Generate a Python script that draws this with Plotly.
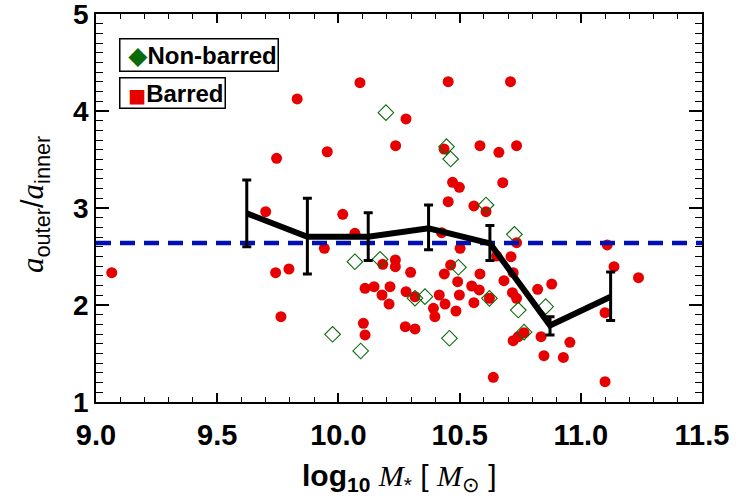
import plotly.graph_objects as go

# ---------------- data ----------------
barred_mass = [9.065, 9.700, 10.018, 10.068, 9.942, 9.741, 9.796, 9.763, 10.103, 10.110,
               10.110, 10.147, 10.180, 10.213, 10.209, 10.183, 10.235, 10.235, 10.298, 10.279,
               10.316, 10.276, 10.316, 9.830, 10.089, 9.745, 9.954, 10.236, 10.279, 10.453,
               10.710, 10.436, 10.584, 10.662, 10.735, 10.471, 10.499, 10.678, 10.453, 10.559,
               10.609, 10.426, 10.735, 10.502, 10.653, 10.712, 10.463, 10.437, 10.584, 10.721,
               10.492, 10.683, 10.550, 10.581, 10.499, 10.416, 10.440, 10.559, 10.485, 10.392,
               10.398, 10.623, 10.718, 10.735, 10.822, 10.880, 10.721, 10.742, 10.766, 10.836,
               10.955, 10.848, 10.928, 10.639, 11.100, 11.109, 11.137, 11.238, 11.100]
barred_ratio = [2.333, 2.962, 2.935, 2.739, 2.584, 2.333, 2.371, 1.880, 1.811, 1.691,
                2.172, 2.189, 2.103, 2.189, 2.010, 2.419, 2.464, 2.395, 2.337, 2.137,
                2.086, 1.776, 1.753, 4.124, 4.292, 3.512, 3.580, 3.642, 3.918, 4.302,
                4.302, 3.608, 3.642, 3.574, 3.642, 3.265, 3.213, 3.261, 3.065, 3.021,
                2.962, 2.746, 2.642, 2.584, 2.505, 2.498, 2.412, 2.320, 2.320, 2.333,
                2.240, 2.251, 2.196, 2.155, 2.103, 2.103, 2.010, 2.024, 1.938, 1.966,
                1.880, 2.069, 2.127, 2.069, 2.162, 2.216, 1.632, 1.673, 1.715, 1.673,
                1.615, 1.477, 1.460, 1.255, 1.209, 2.619, 2.395, 2.282, 1.921]

nonbar_mass = [10.068, 10.172, 9.976, 10.092, 10.316, 10.196, 10.446, 10.463, 10.609,
               10.726, 10.495, 10.357, 10.623, 10.742, 10.855, 10.458, 10.766]
nonbar_ratio = [2.446, 2.471, 1.698, 1.526, 2.070, 3.983, 3.632, 3.505, 3.031,
                2.729, 2.389, 2.086, 2.069, 1.948, 1.983, 1.657, 1.720]

bin_mass = [9.622, 9.872, 10.123, 10.372, 10.625, 10.873, 11.123]
bin_ratio = [2.945, 2.704, 2.704, 2.790, 2.636, 1.790, 2.085]
bin_upper = [3.289, 3.100, 2.950, 3.030, 2.820, 1.880, 2.340]
bin_lower = [2.600, 2.320, 2.460, 2.570, 2.460, 1.690, 1.840]

median_ratio = 2.64
mass_range = [9.0, 11.5]
ratio_range = [1.0, 5.0]
legend_labels = ["Non-barred", "Barred"]

err_plus = [u - m for u, m in zip(bin_upper, bin_ratio)]
err_minus = [m - l for m, l in zip(bin_ratio, bin_lower)]

RED = "#E60000"
GREEN = "#0B6B0B"
SANS = "Liberation Sans"
SERIF = "Liberation Serif"

fig = go.Figure()

fig.add_trace(go.Scatter(
    x=barred_mass, y=barred_ratio, mode="markers", showlegend=False, name=legend_labels[1],
    marker=dict(symbol="circle", size=11, color=RED, line=dict(width=0))))

fig.add_trace(go.Scatter(
    x=nonbar_mass, y=nonbar_ratio, mode="markers", showlegend=False, name=legend_labels[0],
    marker=dict(symbol="diamond-open", size=12, color=GREEN, line=dict(width=1.1, color=GREEN))))

fig.add_trace(go.Scatter(
    x=mass_range, y=[median_ratio, median_ratio], mode="lines", showlegend=False,
    line=dict(color="#0010B4", width=4.5, dash="15px,9px")))

fig.add_trace(go.Scatter(
    x=bin_mass, y=bin_ratio, mode="lines", showlegend=False,
    line=dict(color="black", width=6),
    error_y=dict(type="data", symmetric=False, array=err_plus, arrayminus=err_minus,
                 color="black", thickness=3, width=4.5)))

L, R, T, B = 96, 38, 14, 96
W, H = 740, 498
pw, ph = W - L - R, H - T - B

def px_x(px):
    return (px - L) / pw

def px_y(py):
    return (H - B - py) / ph

fig.update_layout(
    width=W, height=H,
    margin=dict(l=L, r=R, t=T, b=B, autoexpand=False),
    paper_bgcolor="white", plot_bgcolor="white",
    showlegend=False,
)

axis_common = dict(
    showgrid=False, zeroline=False, showline=True, linecolor="black", linewidth=1.6,
    mirror="allticks", ticks="inside", tickcolor="black", tickwidth=1.5,
    tickmode="linear", ticklabeloverflow="allow", automargin=False,
)

fig.update_xaxes(
    range=mass_range, tick0=9.0, dtick=0.5, tickformat=".1f", ticklen=9,
    ticklabelstandoff=6,
    tickfont=dict(family=SANS, size=29, color="black", weight="bold"),
    minor=dict(dtick=0.1, tick0=9.0, ticks="inside", ticklen=5, tickwidth=1.2, tickcolor="black"),
    **axis_common)
fig.update_yaxes(
    range=ratio_range, tick0=1, dtick=1, tickformat="d", ticklen=13,
    tickfont=dict(family=SANS, size=28, color="black", weight="bold"),
    minor=dict(dtick=0.1, tick0=1, ticks="inside", ticklen=7, tickwidth=1.2, tickcolor="black"),
    **axis_common)

serif_i = lambda s: f'<span style="font-family:{SERIF}"><i>{s}</i></span>'

xtitle = ('<b>log</b><sub><b>10</b></sub> ' + serif_i('M') + '<sub>*</sub> [ '
          + serif_i('M') + '<sub>⊙</sub> ]')
ytitle = (serif_i('a') + '<sub>outer</sub>/' + serif_i('a') + '<sub>inner</sub>')

fig.add_annotation(
    text=xtitle, xref="paper", yref="paper", x=0.5, y=0, xanchor="center", yanchor="middle",
    yshift=-75, showarrow=False, font=dict(family=SANS, size=30, color="black"))
fig.add_annotation(
    text=ytitle, xref="paper", yref="paper", x=0, y=0.5, xanchor="center", yanchor="middle",
    xshift=-61, yshift=3, textangle=-90, showarrow=False,
    font=dict(family=SANS, size=31, color="black"))

# legend boxes (two separate framed entries, as in the reference)
legend_items = [
    (legend_labels[0], f'<span style="color:{GREEN};font-family:DejaVu Sans;font-size:25px">◆</span>', 37.5),
    (legend_labels[1], f'<span style="color:{RED};font-family:DejaVu Sans;font-size:19px">■</span>', 76.5),
]
for label, glyph, top in legend_items:
    fig.add_annotation(
        text=f' {glyph}<b>{label}</b>', xref="paper", yref="paper",
        x=px_x(119), y=px_y(top), xanchor="left", yanchor="top", align="left",
        showarrow=False, bordercolor="black", borderwidth=1.5, borderpad=1,
        bgcolor="white", font=dict(family=SANS, size=24, color="black"))

fig.write_html("out.html")
